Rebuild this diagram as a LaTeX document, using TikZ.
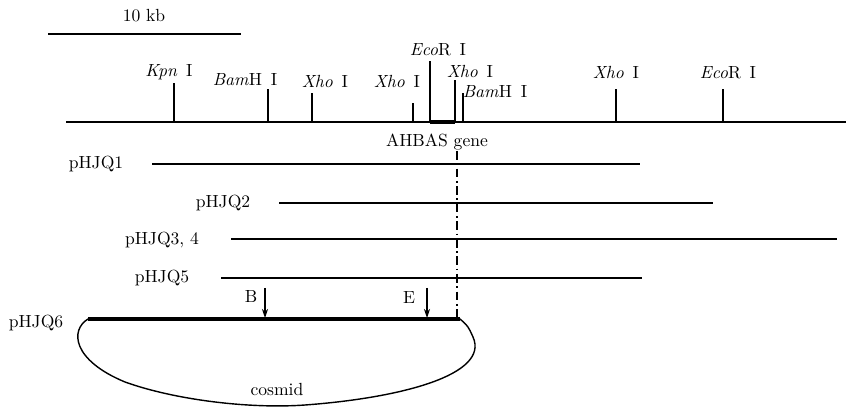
\documentclass[tikz,border=0pt]{standalone}
\usepackage{tikz}
\usetikzlibrary{arrows.meta,positioning,calc}
\definecolor{mapink}{RGB}{0,0,0}
\newcommand{\enzI}[2]{\textit{#1}#2\enspace I}
\tikzset{
  mapline/.style={draw=mapink, line width=1.2pt},
  site/.style={draw=mapink, line width=0.6pt},
  gene/.style={draw=mapink, line width=1.8pt},
  clone/.style={draw=mapink, line width=1.2pt},
  vector/.style={draw=mapink, line width=2.0pt},
  loopline/.style={draw=mapink, line width=0.8pt},
  cutsite/.style={-{Stealth[length=1.8mm,width=1.2mm]}, draw=mapink, line width=0.6pt},
  genemark/.style={draw=mapink, line width=0.6pt, dash pattern=on 5pt off 2pt on 1pt off 2pt},
  lbl/.style={inner sep=0pt, font=\normalsize},
}

\begin{document}
\begin{tikzpicture}[x=0.02cm, y=-0.02cm]
    \useasboundingbox (0,0) rectangle (849,408);
    % scale bar
    \coordinate (sbL) at (48,34); \coordinate (sbR) at (241,34);
    \draw[site, line width=0.8pt] (sbL) -- (sbR);
    \node[lbl] (sb) at (144,16) {10 kb};
    % restriction map
    \coordinate (mapL) at (66,122); \coordinate (mapR) at (846,122);
    \draw[mapline] (mapL) -- (mapR);
    \coordinate (kpn) at (174,122); \coordinate (kpnT) at (174,83);
    \coordinate (bam1) at (268,122); \coordinate (bam1T) at (268,89);
    \coordinate (xho1) at (312,122); \coordinate (xho1T) at (312,93);
    \coordinate (xho2) at (413,122); \coordinate (xho2T) at (413,103);
    \coordinate (eco1) at (430,122); \coordinate (eco1T) at (430,61);
    \coordinate (xho3) at (455,122); \coordinate (xho3T) at (455,80);
    \coordinate (bam2) at (463,122); \coordinate (bam2T) at (463,93);
    \coordinate (xho4) at (616,122); \coordinate (xho4T) at (616,89);
    \coordinate (eco2) at (723,122); \coordinate (eco2T) at (723,89);
    \draw[site] (kpn) -- (kpnT);
    \draw[site] (bam1) -- (bam1T);
    \draw[site] (xho1) -- (xho1T);
    \draw[site] (xho2) -- (xho2T);
    \draw[site, line width=0.9pt] (eco1) -- (eco1T);
    \draw[site, line width=0.9pt] (xho3) -- (xho3T);
    \draw[site] (bam2) -- (bam2T);
    \draw[site] (xho4) -- (xho4T);
    \draw[site] (eco2) -- (eco2T);
    \draw[gene] (eco1) -- (xho3);
    \node[lbl] (kpnL) at (169,72) {\textit{Kpn}\enspace I};
    \node[lbl] (bam1L) at (245,80) {\enzI{Bam}{H}};
    \node[lbl] (xho1L) at (325,82) {\enzI{Xho}{}};
    \node[lbl] (xho2L) at (397,82) {\enzI{Xho}{}};
    \node[lbl] (eco1L) at (438,50) {\enzI{Eco}{R}};
    \node[lbl] (xho3L) at (470,72) {\enzI{Xho}{}};
    \node[lbl] (bam2L) at (495,92) {\enzI{Bam}{H}};
    \node[lbl] (xho4L) at (616,73) {\enzI{Xho}{}};
    \node[lbl] (eco2L) at (728,73) {\enzI{Eco}{R}};
    \node[lbl] (ahbas) at (437,142) {AHBAS gene};
    % clones
    \coordinate (q1a) at (152,164); \coordinate (q1b) at (640,164);
    \coordinate (q2a) at (279,203); \coordinate (q2b) at (713,203);
    \coordinate (q3a) at (231,239); \coordinate (q3b) at (837,239);
    \coordinate (q5a) at (221,278); \coordinate (q5b) at (642,278);
    \coordinate (q6a) at (88,319); \coordinate (q6b) at (460,319);
    \draw[clone] (q1a) -- (q1b);
    \draw[clone] (q2a) -- (q2b);
    \draw[clone] (q3a) -- (q3b);
    \draw[clone] (q5a) -- (q5b);
    \draw[vector] (q6a) -- (q6b);
    \node[lbl] (q1L) at (96,164) {pHJQ1};
    \node[lbl] (q2L) at (223,203) {pHJQ2};
    \node[lbl] (q3L) at (162,240) {pHJQ3, 4};
    \node[lbl] (q5L) at (162,278) {pHJQ5};
    \node[lbl] (q6L) at (36,323) {pHJQ6};
    % gene position
    \coordinate (gmT) at (457,151); \coordinate (gmB) at (457,318);
    \draw[genemark] (gmT) -- (gmB);
    % cut sites in pHJQ6
    \coordinate (bT) at (265,288); \coordinate (bB) at (265,318);
    \coordinate (eT) at (427,288); \coordinate (eB) at (427,318);
    \draw[cutsite] (bT) -- (bB);
    \draw[cutsite] (eT) -- (eB);
    \node[lbl] (bL) at (251,297) {B};
    \node[lbl] (eL) at (409,298) {E};
    % cosmid loop
    \draw[loopline] (q6a) .. controls (70,330) and (72,360) .. (125,382)
      .. controls (175,400) and (250,409) .. (305,405)
      .. controls (400,398) and (490,375) .. (473,337)
      .. controls (468,326) .. (q6b);
    \node[lbl] (cos) at (277,390) {cosmid};
\end{tikzpicture}
\end{document}
